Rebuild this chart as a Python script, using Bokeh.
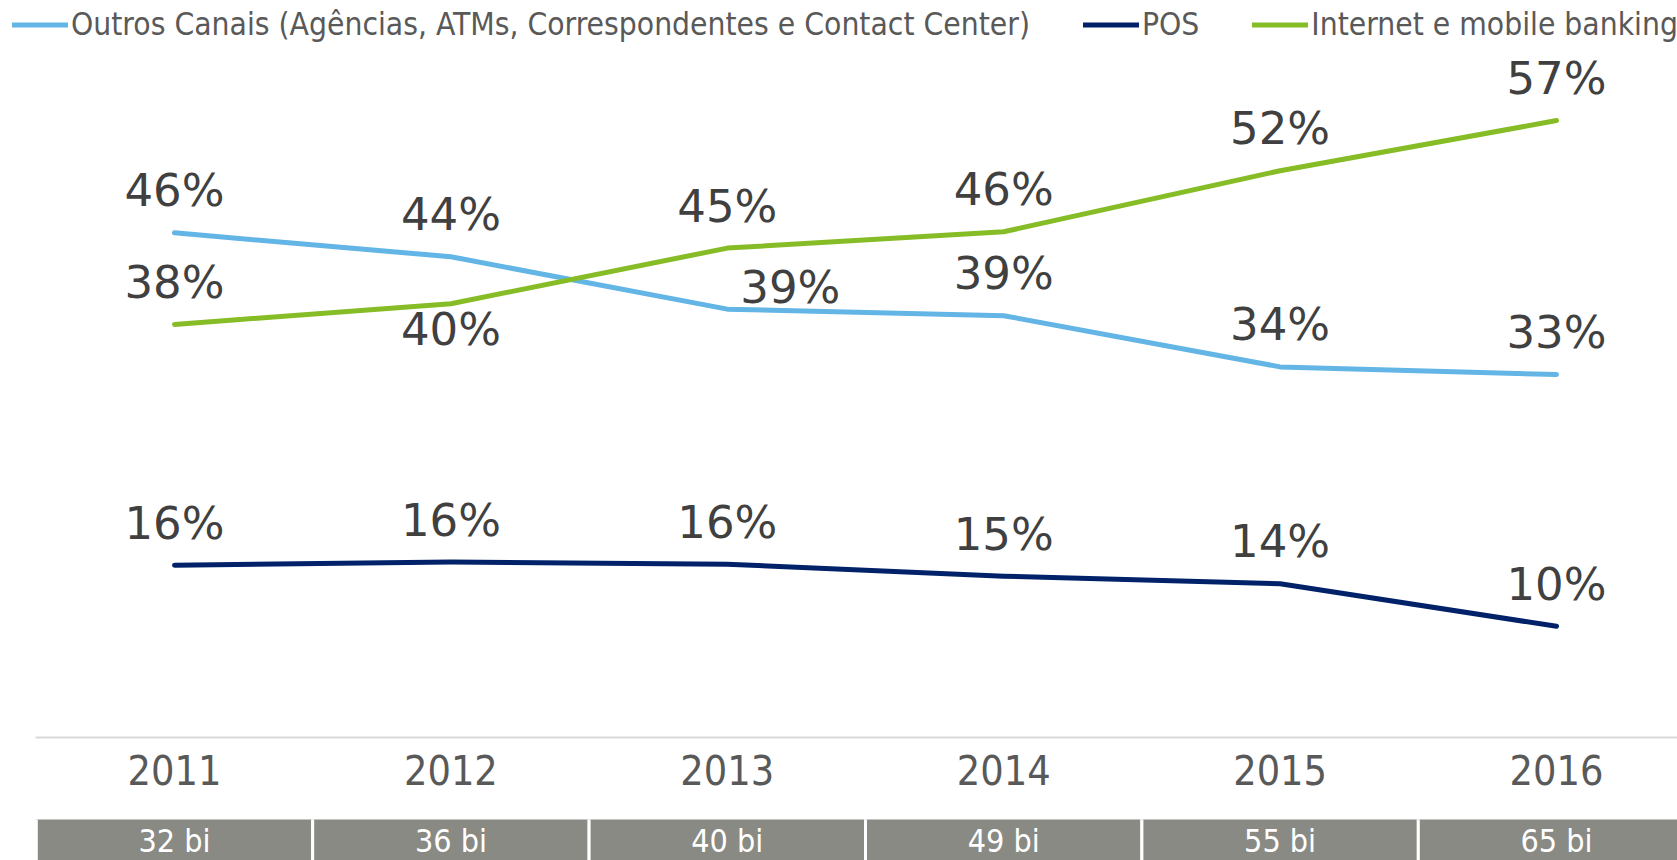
from bokeh.plotting import figure
from bokeh.models import (Range1d, FixedTicker, Legend, LegendItem, ColumnDataSource)
from bokeh.layouts import column
from bokeh.embed import file_html
from bokeh.resources import INLINE
from bokeh.core.properties import value

# ---- data ----
years = ["2011", "2012", "2013", "2014", "2015", "2016"]
outros = [46.3, 44.1, 39.3, 38.7, 34.0, 33.3]
pos = [15.8, 16.1, 15.9, 14.8, 14.1, 10.2]
internet = [37.9, 39.8, 44.9, 46.4, 52.0, 56.6]
volumes = ["32 bi", "36 bi", "40 bi", "49 bi", "55 bi", "65 bi"]
series_names = ["Outros Canais (Agências, ATMs, Correspondentes e Contact Center)",
                "POS", "Internet e mobile banking"]

# ---- styles ----
C_OUTROS = "#62B5E5"
C_POS = "#012169"
C_NET = "#86BC25"
LABEL_COLOR = "#404040"
AXIS_TEXT = "#595959"
CELL_GREY = "#8A8A84"
FONT_LBL = "DejaVu Sans"
FONT_AX = "DejaVu Sans Condensed"

# per-point label offsets (screen px)
off_outros_x = [0, 0, 63, 0, 0, 0]
off_outros_y = [-42, -42, -22, -42, -42, -42]
off_net_x = [0, 0, 0, 0, 0, 0]
off_net_y = [-42, 26, -42, -42, -42, -42]
off_pos_x = [0, 0, 0, 0, 0, 0]
off_pos_y = [-42, -42, -42, -42, -42, -42]

W = 1677
PX_PER_UNIT_X = 276.4
X0_PX = 174  # x=0 in figure px
x_start = -X0_PX / PX_PER_UNIT_X
x_end = (W - X0_PX) / PX_PER_UNIT_X

MAIN_H = 819
BOTTOM_BORDER = 82
frame_h = MAIN_H - BOTTOM_BORDER
y_end = frame_h / 10.9

xs = list(range(len(years)))

p = figure(width=W, height=MAIN_H, output_backend="svg", toolbar_location=None,
           x_range=Range1d(x_start, x_end), y_range=Range1d(0, y_end),
           min_border_left=0, min_border_right=0, min_border_top=0,
           min_border_bottom=BOTTOM_BORDER)
p.outline_line_color = None
p.xgrid.visible = False
p.ygrid.visible = False
p.yaxis.visible = False
p.background_fill_color = "white"
p.border_fill_color = "white"

xa = p.xaxis[0]
xa.ticker = FixedTicker(ticks=xs)
xa.major_label_overrides = {i: y for i, y in enumerate(years)}
xa.major_tick_line_color = None
xa.minor_tick_line_color = None
xa.major_tick_out = 0
xa.major_tick_in = 0
xa.axis_line_color = "#D9D9D9"
xa.axis_line_width = 2
xa.bounds = ((35 - X0_PX) / PX_PER_UNIT_X, x_end)
xa.major_label_text_font = FONT_AX
xa.major_label_text_font_size = "41px"
xa.major_label_text_color = AXIS_TEXT
xa.major_label_standoff = 17

series = [
    (outros, C_OUTROS, off_outros_x, off_outros_y),
    (pos, C_POS, off_pos_x, off_pos_y),
    (internet, C_NET, off_net_x, off_net_y),
]
renderers = []
for vals, col, ox, oy in series:
    src = ColumnDataSource(dict(x=xs, y=vals,
                                lbl=[f"{round(v)}%" for v in vals],
                                ox=ox, oy=oy))
    r = p.line("x", "y", source=src, line_color=col, line_width=5,
               line_cap="round", line_join="round")
    renderers.append(r)
    p.text("x", "y", text="lbl", source=src, x_offset="ox", y_offset="oy",
           text_align="center", text_baseline="middle",
           text_font=value(FONT_LBL), text_font_size="45px",
           text_color=LABEL_COLOR)

legend = Legend(items=[LegendItem(label=n, renderers=[r])
                       for n, r in zip(series_names, renderers)],
                orientation="horizontal")
legend.margin = 0
legend.padding = 0
legend.spacing = 53
legend.glyph_width = 56
legend.glyph_height = 31
legend.label_height = 31
legend.label_standoff = 3
legend.label_text_font = FONT_AX
legend.label_text_font_size = "31.5px"
legend.label_text_color = AXIS_TEXT
legend.background_fill_alpha = 0
legend.border_line_color = None
legend.location = (12, frame_h - 42)
p.add_layout(legend)

# ---- table row ----
TBL_H = 860 - MAIN_H
t = figure(width=W, height=TBL_H, output_backend="svg", toolbar_location=None,
           x_range=p.x_range, y_range=Range1d(0, 1),
           min_border_left=0, min_border_right=0, min_border_top=0,
           min_border_bottom=0)
t.outline_line_color = None
t.axis.visible = False
t.grid.visible = False
tsrc = ColumnDataSource(dict(x=xs, lbl=volumes))
t.rect(x="x", y=0.5, width=1, height=1.2, source=tsrc,
       fill_color=CELL_GREY, line_color="white", line_width=3)
t.text(x="x", y=0.5, text="lbl", source=tsrc, y_offset=1,
       text_align="center", text_baseline="middle",
       text_font=value(FONT_AX), text_font_size="32px", text_color="#FFFFFF")

layout = column(p, t, spacing=0)
open("out.html", "w").write(file_html(layout, INLINE))
